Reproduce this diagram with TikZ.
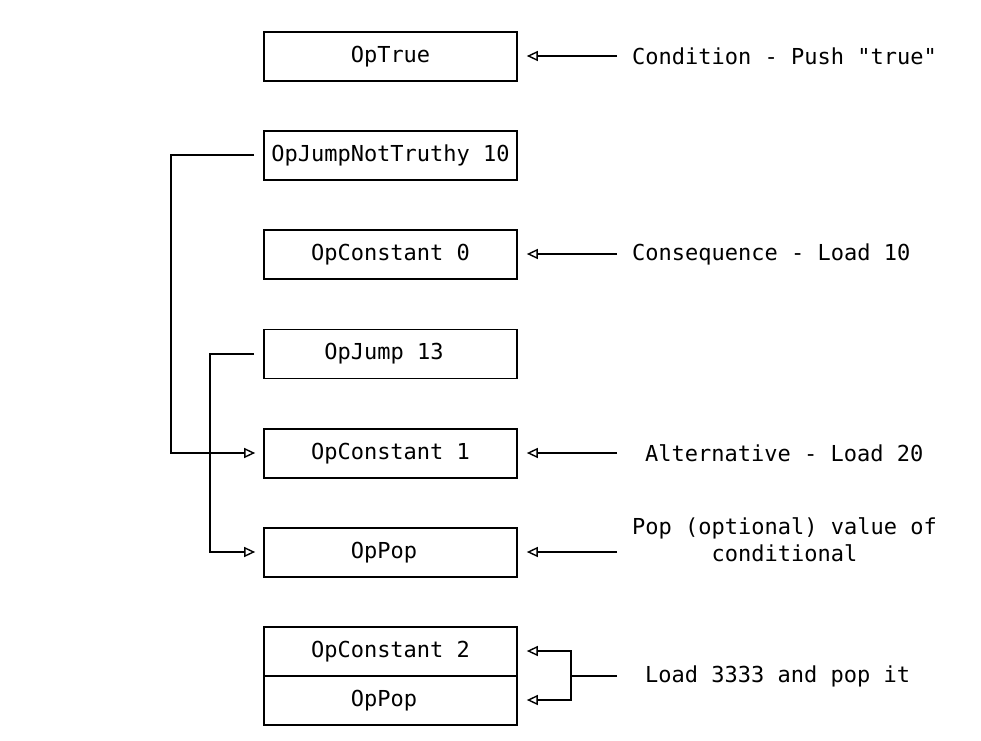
\documentclass[tikz,border=0pt]{standalone}
\usepackage{fontspec}
\setmonofont{DejaVu Sans Mono}
\usetikzlibrary{arrows.meta}
\begin{document}
\begin{tikzpicture}[x=1bp,y=-1bp,
  every node/.style={font=\fontsize{22bp}{27bp}\selectfont\ttfamily},
  opbox/.style={draw, line width=1.7bp, minimum width=253bp, minimum height=49bp, inner sep=0pt},
  lbl/.style={anchor=west, inner sep=0pt},
  wire/.style={line width=1.9bp},
  arr/.style={wire, -{Triangle[open, length=11bp, width=10bp, line width=1.4bp]}}]
\useasboundingbox (0,0) rectangle (981,741);
\node[opbox] (b1) at (390.5,56.5) {OpTrue};
\node[opbox] (b2) at (390.5,155.5) {OpJumpNotTruthy 10};
\node[opbox] (b3) at (390.5,254.5) {OpConstant 0};
\node[opbox] (b4) at (390.5,354) {OpJump 13\hspace*{13.2bp}};
\node[opbox] (b5) at (390.5,453.5) {OpConstant 1};
\node[opbox] (b6) at (390.5,552.5) {OpPop\hspace*{13.2bp}};
\node[opbox] (b7a) at (390.5,651.5) {OpConstant 2};
\node[opbox] (b7b) at (390.5,700.5) {OpPop\hspace*{13.2bp}};

\node[lbl] (t1) at (632,56) {Condition - Push "true"};
\node[lbl] (t3) at (632,254) {Consequence - Load 10};
\node[lbl] (t5) at (645,453) {Alternative - Load 20};
\node[align=center, inner sep=0pt] (t6) at (784.5,539.5) {Pop (optional) value of\\conditional};
\node[lbl] (t7) at (645,676) {Load 3333 and pop it};

\draw[arr] ([xshift=-15bp]t1.west) -- ([xshift=9bp]t1.west -| b1.east);
\draw[arr] ([xshift=-15bp]t3.west) -- ([xshift=9bp]t3.west -| b3.east);
\draw[arr] ([xshift=-28bp]t5.west) -- ([xshift=9bp]t5.west -| b5.east);
\coordinate (e6) at (617,552);
\draw[arr] (e6) -- ([xshift=9bp]e6 -| b6.east);

\coordinate (j1) at (171,155);
\coordinate (j2) at (210,354);
\draw[arr] ([xshift=-9bp]j1 -| b2.west) -- (j1) |- ([xshift=-8bp]b5.west |- t5.west);
\draw[arr] ([xshift=-9bp]j2 -| b4.west) -- (j2) |- ([xshift=-8bp]b6.west |- e6);

\coordinate (f) at (571,676);
\coordinate (fa) at (571,651);
\coordinate (fb) at (571,700);
\draw[wire] ([xshift=-28bp]t7.west) -- (f);
\draw[arr] (f) -- (fa) -- ([xshift=9bp]fa -| b7a.east);
\draw[arr] (f) -- (fb) -- ([xshift=9bp]fb -| b7b.east);
\end{tikzpicture}
\end{document}
